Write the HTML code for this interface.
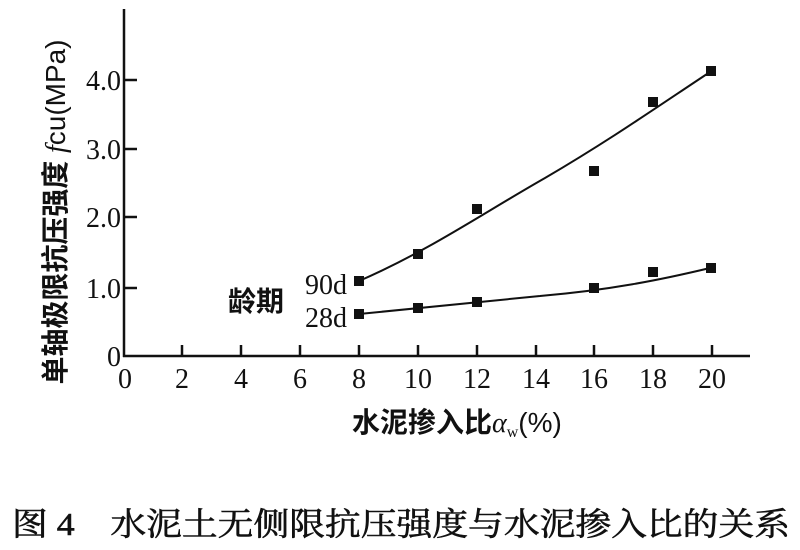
<!DOCTYPE html><html><head><meta charset="utf-8"><style>
body{margin:0;background:#fff;}
svg{display:block}
text{font-family:"Liberation Serif","Noto Serif CJK SC",serif;fill:#111}
.cj{font-family:"Liberation Sans","Noto Sans CJK SC",sans-serif;font-weight:bold}
</style></head><body>
<svg width="800" height="550" viewBox="0 0 800 550">
<g stroke="#111" stroke-width="2.5" fill="none">
<line x1="124" y1="9" x2="124" y2="357"/>
<line x1="123" y1="356" x2="750" y2="356"/>
<line x1="124" y1="80" x2="137" y2="80"/>
<line x1="124" y1="149" x2="137" y2="149"/>
<line x1="124" y1="217" x2="137" y2="217"/>
<line x1="124" y1="288" x2="137" y2="288"/>
<line x1="182" y1="356" x2="182" y2="345"/>
<line x1="241" y1="356" x2="241" y2="345"/>
<line x1="300" y1="356" x2="300" y2="345"/>
<line x1="359" y1="356" x2="359" y2="345"/>
<line x1="418" y1="356" x2="418" y2="345"/>
<line x1="477" y1="356" x2="477" y2="345"/>
<line x1="536" y1="356" x2="536" y2="345"/>
<line x1="594" y1="356" x2="594" y2="345"/>
<line x1="653" y1="356" x2="653" y2="345"/>
<line x1="712" y1="356" x2="712" y2="345"/>
<path stroke-width="2" d="M359 281 C430 250 480 215 545 178 C610 140 660 105 710 72"/>
<path stroke-width="2" d="M359 314 C420 308 480 302 540 296 C610 290 660 280 710 268"/>
</g>
<g fill="#111">
<rect x="354" y="276" width="10" height="10"/><rect x="413" y="249" width="10" height="10"/>
<rect x="472" y="204" width="10" height="10"/><rect x="589" y="166" width="10" height="10"/>
<rect x="648" y="97" width="10" height="10"/><rect x="706" y="66" width="10" height="10"/>
<rect x="354" y="309" width="10" height="10"/><rect x="413" y="303" width="10" height="10"/>
<rect x="472" y="297" width="10" height="10"/><rect x="589" y="283" width="10" height="10"/>
<rect x="648" y="267" width="10" height="10"/><rect x="706" y="263" width="10" height="10"/>
</g>
<g font-size="28" text-anchor="end">
<text x="121" y="90">4.0</text><text x="121" y="159">3.0</text>
<text x="121" y="227">2.0</text><text x="121" y="298">1.0</text><text x="121" y="366">0</text>
</g>
<g font-size="28" text-anchor="middle">
<text x="125" y="388">0</text><text x="182" y="388">2</text><text x="241" y="388">4</text>
<text x="300" y="388">6</text><text x="359" y="388">8</text><text x="418" y="388">10</text>
<text x="477" y="388">12</text><text x="536" y="388">14</text><text x="594" y="388">16</text>
<text x="653" y="388">18</text><text x="712" y="388">20</text>
</g>
<text x="347" y="294" font-size="28" text-anchor="end">90d</text>
<text x="347" y="327" font-size="28" text-anchor="end">28d</text>
<text x="228" y="311" font-size="28" class="cj">龄期</text>
<text transform="translate(65,212) rotate(-90)" font-size="28" text-anchor="middle" textLength="345" lengthAdjust="spacingAndGlyphs"><tspan class="cj">单轴极限抗压强度 </tspan><tspan font-style="italic">f</tspan><tspan font-family="Liberation Sans">cu(MPa)</tspan></text>
<text x="352" y="432" font-size="28"><tspan class="cj">水泥掺入比</tspan><tspan font-style="italic">α</tspan><tspan font-size="16" dy="5">w</tspan><tspan dy="-5" font-family="Liberation Sans">(%)</tspan></text>
<text x="12" y="535" font-size="32" textLength="778" lengthAdjust="spacingAndGlyphs" stroke="#111" stroke-width="0.6">图 4　水泥土无侧限抗压强度与水泥掺入比的关系</text>
</svg>
</body></html>
